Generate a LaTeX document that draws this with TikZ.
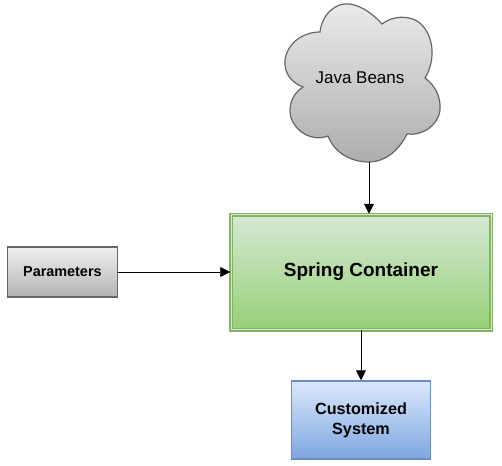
\documentclass[tikz,border=0pt]{standalone}
\usepackage{fontspec}
\setmainfont{Liberation Sans}
\usetikzlibrary{positioning, arrows.meta}
\definecolor{springline}{RGB}{130,179,102}
\definecolor{springtop}{RGB}{213,232,212}
\definecolor{springbot}{RGB}{151,208,119}
\definecolor{systemline}{RGB}{108,142,191}
\definecolor{systemtop}{RGB}{218,232,252}
\definecolor{systembot}{RGB}{126,166,224}

\begin{document}
\begin{tikzpicture}[
                x=1pt, y=-1pt,
                box/.style={rectangle, draw, align=center, inner sep=3pt, font=\bfseries},
                springbox/.style={box, draw=springline, line width=1.5pt, double=springtop, double distance=1pt, minimum width=260pt, minimum height=115pt, top color=springtop, bottom color=springbot, font=\bfseries\fontsize{19}{23}\selectfont},
                parambox/.style={box, draw=black!60, line width=1.7pt, minimum width=110pt, minimum height=50pt, top color=black!6, bottom color=black!30, font=\bfseries\fontsize{14.4}{17}\selectfont},
                systembox/.style={box, draw=systemline, line width=1.5pt, minimum width=139pt, minimum height=78pt, top color=systemtop, bottom color=systembot, font=\bfseries\fontsize{16.2}{20}\selectfont},
                cloudline/.style={draw=black!60, line width=1.2pt, top color=black!8, bottom color=black!32},
                arr/.style={-{Triangle[length=10pt, width=10pt]}, line width=0.9pt}
            ]
            \useasboundingbox (0,0) rectangle (502,465);
            % cloud outline
            \path[cloudline] (320,32) .. controls (322,14) and (336,2) .. (350,4)
                .. controls (362,6) and (373,14) .. (382,24)
                .. controls (392,16) and (410,14) .. (421,24)
                .. controls (435,38) and (435,62) .. (425,78)
                .. controls (436,86) and (441,98) .. (440,110)
                .. controls (438,126) and (422,136) .. (407,134)
                .. controls (398,152) and (384,162) .. (369,162)
                .. controls (350,162) and (334,152) .. (328,136)
                .. controls (312,142) and (296,132) .. (291,118)
                .. controls (288,106) and (292,94) .. (303,87)
                .. controls (290,82) and (284,72) .. (285,60)
                .. controls (287,44) and (302,32) .. (320,32) -- cycle;
            \coordinate (base) at (369,162);
            \node[font=\fontsize{17}{20}\selectfont] (beans) at (360,78) {Java Beans};
            \node[springbox]               (spring) at (361,272) {Spring Container};
            \node[parambox, left=112pt of spring] (param) {Parameters};
            \node[systembox, below=50pt of spring.south] (system) {Customized\\ System};
            \draw[arr] (base) -- (base |- spring.north);
            \draw[arr] (param) -- (spring);
            \draw[arr] (spring) -- (system);
        \end{tikzpicture}
\end{document}
